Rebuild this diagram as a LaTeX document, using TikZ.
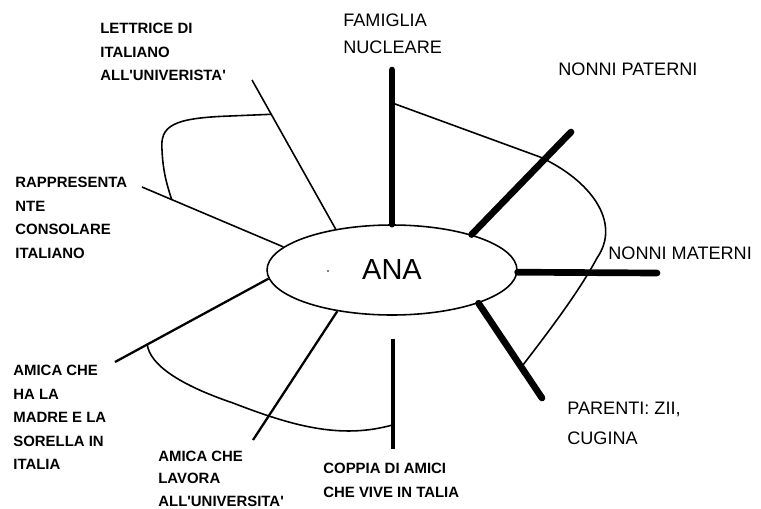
\documentclass[tikz,border=0pt]{standalone}
\usepackage{fontspec}
\setmainfont{Liberation Sans}
\usepackage{tikz}
\usetikzlibrary{positioning, shapes.geometric, calc}

\begin{document}
\begin{tikzpicture}[x=0.02cm, y=-0.02cm,
    every node/.style={inner sep=0pt},
    small/.style={anchor=north west, align=left, font=\fontsize{8.5}{13.4}\selectfont\bfseries},
    big/.style={anchor=north west, align=left, font=\fontsize{10.3}{15.3}\selectfont},
    heavy/.style={line width=3.8pt, line cap=round},
    medium/.style={line width=2pt},
    light/.style={line width=1.3pt},
    thinline/.style={line width=0.9pt}]
    \useasboundingbox (0,0) rectangle (761,508);
    \node[draw, ellipse, thinline, minimum width=5cm, minimum height=1.8cm, font=\fontsize{16.5}{18}\selectfont] (ANA) at (392,270) {ANA};
    \fill (328,271) circle (0.5pt);
    % labels
    \node[big] (FAM) at (343,14) {FAMIGLIA\\NUCLEARE};
    \node[big] (NP) at (558,63) {NONNI PATERNI};
    \node[big] (NM) at (608,247) {NONNI MATERNI};
    \node[big, font=\fontsize{10.3}{17}\selectfont] (PAR) at (567,402) {PARENTI: ZII,\\CUGINA};
    \node[small] (COP) at (323,463) {COPPIA DI AMICI\\CHE VIVE IN TALIA};
    \node[small, font=\fontsize{8.5}{12.6}\selectfont\bfseries] (AL) at (158,451) {AMICA CHE\\LAVORA\\ALL\textquotesingle UNIVERSITA\textquotesingle};
    \node[small] (AM) at (13,365) {AMICA CHE\\HA LA\\MADRE E LA\\SORELLA IN\\ITALIA};
    \node[small] (RC) at (15,177) {RAPPRESENTA\\NTE\\CONSOLARE\\ITALIANO};
    \node[small] (LI) at (100,23) {LETTRICE DI\\ITALIANO\\ALL\textquotesingle UNIVERISTA\textquotesingle};
    % spoke ends
    \coordinate (fam) at (392,70);
    \coordinate (pat) at (571,132);
    \coordinate (mat) at (657,273);
    \coordinate (par) at (542,398);
    \coordinate (cop1) at (393,339);
    \coordinate (cop2) at (393,449);
    \coordinate (lav) at (253,440);
    \coordinate (mad) at (115,362);
    \coordinate (rap) at (142,187);
    \coordinate (let) at (252,80);
    % spokes
    \draw[heavy] (ANA.90) -- (fam);
    \draw[heavy] (ANA.24.2) -- (pat);
    \draw[heavy] (ANA.-1.5) -- (mat);
    \draw[heavy] (ANA.-21) -- (par);
    \draw[medium] (cop1) -- (cop2);
    \draw[light] (ANA.217.4) -- (lav);
    \draw[light] (ANA.184) -- (mad);
    \draw[thinline] (ANA.168.1) -- (rap);
    \draw[thinline] (ANA.144) -- (let);
    % loops
    \draw[thinline] ($(ANA.144)!0.77!(let)$) -- (230,116) .. controls (172,118) and (160,126) .. (162,150) .. controls (163,172) and (167,185) .. ($(ANA.168.1)!0.79!(rap)$);
    \draw[thinline] ($(ANA.90)!0.787!(fam)$) -- (540,157) .. controls (590,180) and (622,222) .. (597,258) .. controls (580,290) and (550,330) .. ($(ANA.-21)!0.674!(par)$);
    \draw[thinline] ($(ANA.184)!0.79!(mad)$) .. controls (150,365) and (180,385) .. (233,403) .. controls (290,425) and (340,440) .. ($(cop1)!0.78!(cop2)$);
\end{tikzpicture}
\end{document}
